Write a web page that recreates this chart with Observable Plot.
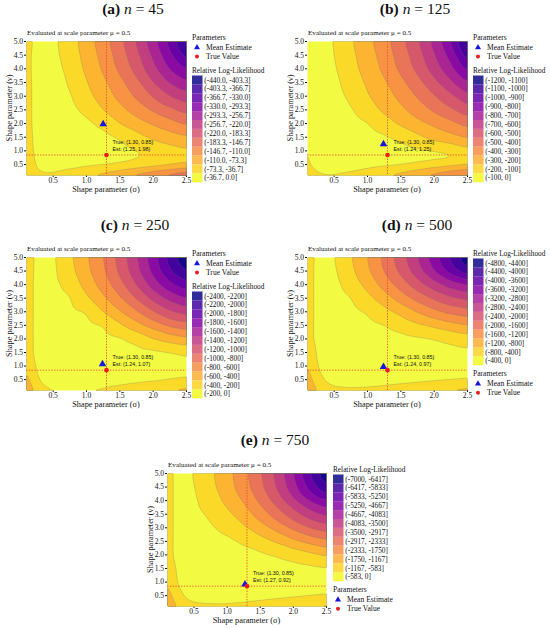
<!DOCTYPE html>
<html>
<head>
<meta charset="utf-8">
<script src="https://cdn.jsdelivr.net/npm/d3@7"></script>
<script src="https://cdn.jsdelivr.net/npm/@observablehq/plot@0.6"></script>
<style>
  html, body { margin: 0; padding: 0; background: #fff; }
  #fig { position: relative; width: 550px; height: 629px; overflow: hidden; }
  #fig svg { position: absolute; }
</style>
</head>
<body>
<div id="fig"></div>
<script>
// ---------------- data ----------------
const sampleSizes = [45, 125, 250, 500, 750];
const trueValue = {sigma: 1.30, nu: 0.85};
const meanEstimates = [
  {sigma: 1.25, nu: 1.98},
  {sigma: 1.24, nu: 1.25},
  {sigma: 1.24, nu: 1.07},
  {sigma: 1.24, nu: 0.97},
  {sigma: 1.27, nu: 0.92}
];
const xTicks = [0.5, 1.0, 1.5, 2.0, 2.5];
const yTicks = [0.5, 1.0, 1.5, 2.0, 2.5, 3.0, 3.5, 4.0, 4.5, 5.0];

const binLabelsA = ["(-440.0, -403.3]", "(-403.3, -366.7]", "(-366.7, -330.0]", "(-330.0, -293.3]", "(-293.3, -256.7]", "(-256.7, -220.0]", "(-220.0, -183.3]", "(-183.3, -146.7]", "(-146.7, -110.0]", "(-110.0, -73.3]", "(-73.3, -36.7]", "(-36.7, 0.0]"];
const binLabelsB = ["(-1200, -1100]", "(-1100, -1000]", "(-1000, -900]", "(-900, -800]", "(-800, -700]", "(-700, -600]", "(-600, -500]", "(-500, -400]", "(-400, -300]", "(-300, -200]", "(-200, -100]", "(-100, 0]"];
const binLabelsC = ["(-2400, -2200]", "(-2200, -2000]", "(-2000, -1800]", "(-1800, -1600]", "(-1600, -1400]", "(-1400, -1200]", "(-1200, -1000]", "(-1000, -800]", "(-800, -600]", "(-600, -400]", "(-400, -200]", "(-200, 0]"];
const binLabelsD = ["(-4800, -4400]", "(-4400, -4000]", "(-4000, -3600]", "(-3600, -3200]", "(-3200, -2800]", "(-2800, -2400]", "(-2400, -2000]", "(-2000, -1600]", "(-1600, -1200]", "(-1200, -800]", "(-800, -400]", "(-400, 0]"];
const binLabelsE = ["(-7000, -6417]", "(-6417, -5833]", "(-5833, -5250]", "(-5250, -4667]", "(-4667, -4083]", "(-4083, -3500]", "(-3500, -2917]", "(-2917, -2333]", "(-2333, -1750]", "(-1750, -1167]", "(-1167, -583]", "(-583, 0]"];

const sigmaGrid = [0.1, 0.2, 0.35, 0.5, 0.75, 1.0, 1.25, 1.5, 1.75, 2.0, 2.25, 2.5];
const nuGrid = [0.1, 0.25, 0.5, 0.75, 1.0, 1.5, 2.0, 2.5, 3.0, 3.5, 4.0, 4.5, 5.0];

// relative log-likelihood depth below the maximum, in legend bins (rows: nu from 0.1 up to 5.0)
const depthA = [
  [2.6, 1.6, 1.3, 1.3, 1.6, 2.0, 2.5, 3.0, 3.6, 4.2, 4.9, 5.6],
  [2.1, 1.1, 0.85, 0.9, 1.2, 1.5, 1.8, 2.1, 2.5, 2.9, 3.3, 3.7],
  [1.85, 1.1, 0.65, 0.5, 0.6, 0.8, 0.95, 1.15, 1.4, 1.6, 1.85, 2.15],
  [1.7, 1.0, 0.55, 0.35, 0.3, 0.3, 0.4, 0.6, 0.85, 1.1, 1.35, 1.6],
  [1.6, 0.95, 0.5, 0.35, 0.3, 0.35, 0.45, 0.65, 0.97, 1.3, 1.55, 1.8],
  [1.5, 0.9, 0.5, 0.35, 0.35, 0.45, 0.65, 1.07, 1.63, 2.17, 2.53, 2.88],
  [1.45, 0.85, 0.5, 0.4, 0.5, 0.75, 1.26, 2.0, 2.56, 3.11, 3.6, 4.12],
  [1.4, 0.85, 0.55, 0.45, 0.7, 1.24, 2.0, 2.71, 3.43, 4.13, 4.75, 5.38],
  [1.4, 0.85, 0.55, 0.5, 0.9, 1.68, 2.47, 3.29, 4.19, 5.1, 6.0, 6.63],
  [1.4, 0.85, 0.55, 0.55, 1.1, 1.93, 2.77, 3.72, 4.72, 6.0, 7.1, 7.88],
  [1.4, 0.8, 0.55, 0.6, 1.31, 2.19, 3.13, 4.23, 5.4, 6.72, 8.1, 9.1],
  [1.4, 0.8, 0.6, 0.75, 1.43, 2.35, 3.35, 4.48, 5.74, 7.2, 8.8, 10.45],
  [1.4, 0.9, 0.6, 0.8, 1.55, 2.5, 3.57, 4.75, 6.1, 7.67, 9.4, 11.4]
];
const depthB = [
  [2.2, 1.4, 1.2, 1.2, 1.4, 1.7, 2.1, 2.6, 3.1, 3.7, 4.2, 4.8],
  [1.6, 0.95, 0.85, 0.85, 0.95, 1.2, 1.5, 1.8, 2.2, 2.6, 2.95, 3.3],
  [1.3, 0.7, 0.45, 0.45, 0.55, 0.7, 0.82, 0.95, 1.2, 1.5, 1.8, 2.1],
  [1.2, 0.65, 0.35, 0.3, 0.3, 0.35, 0.4, 0.5, 0.6, 0.7, 0.75, 0.98],
  [1.15, 0.6, 0.35, 0.3, 0.3, 0.35, 0.45, 0.6, 0.8, 0.95, 1.2, 1.7],
  [1.1, 0.6, 0.4, 0.35, 0.45, 0.6, 0.85, 1.22, 1.78, 2.33, 2.68, 3.1],
  [1.1, 0.6, 0.4, 0.4, 0.6, 0.95, 1.54, 2.16, 2.7, 3.2, 3.7, 4.33],
  [1.1, 0.6, 0.45, 0.5, 0.9, 1.55, 2.2, 2.8, 3.47, 4.17, 4.85, 5.58],
  [1.1, 0.6, 0.45, 0.6, 1.24, 1.92, 2.56, 3.26, 4.1, 4.93, 5.77, 6.81],
  [1.1, 0.6, 0.45, 0.75, 1.44, 2.14, 2.86, 3.74, 4.67, 5.73, 6.86, 8.0],
  [1.1, 0.6, 0.45, 0.9, 1.65, 2.39, 3.21, 4.24, 5.27, 6.5, 7.75, 9.36],
  [1.1, 0.6, 0.45, 1.03, 1.76, 2.53, 3.42, 4.46, 5.57, 6.94, 8.4, 10.6],
  [1.1, 0.6, 0.5, 1.1, 1.88, 2.7, 3.63, 4.7, 5.9, 7.33, 9.1, 11.5]
];
const depthC = [
  [3.5, 2.0, 1.3, 1.15, 1.1, 1.12, 1.2, 1.4, 1.65, 1.9, 2.15, 2.4],
  [3.0, 1.6, 1.0, 0.8, 0.75, 0.8, 0.93, 1.1, 1.3, 1.5, 1.7, 1.9],
  [2.6, 1.35, 0.8, 0.55, 0.45, 0.45, 0.5, 0.6, 0.7, 0.8, 0.95, 1.05],
  [2.3, 1.2, 0.65, 0.4, 0.3, 0.3, 0.3, 0.35, 0.45, 0.55, 0.7, 0.85],
  [2.1, 1.1, 0.55, 0.35, 0.3, 0.3, 0.3, 0.35, 0.4, 0.5, 0.6, 0.7],
  [1.55, 0.95, 0.5, 0.35, 0.35, 0.4, 0.45, 0.55, 0.65, 0.75, 0.9, 1.13],
  [1.5, 0.95, 0.5, 0.4, 0.45, 0.55, 0.7, 0.85, 1.25, 1.95, 2.4, 2.77],
  [1.5, 0.95, 0.5, 0.45, 0.55, 0.75, 0.97, 1.79, 2.61, 3.42, 4.2, 4.57],
  [1.5, 0.95, 0.55, 0.55, 0.8, 1.0, 1.96, 2.92, 3.88, 4.92, 5.88, 6.43],
  [1.5, 0.95, 0.55, 0.65, 0.9, 1.8, 2.82, 3.87, 5.1, 6.33, 7.33, 8.06],
  [1.5, 0.95, 0.55, 0.75, 1.3, 2.38, 3.45, 4.67, 6.06, 7.5, 8.8, 9.68],
  [1.6, 0.95, 0.6, 0.8, 1.67, 2.74, 3.83, 5.22, 6.69, 8.31, 9.93, 11.15],
  [1.5, 1.0, 0.6, 0.85, 1.8, 2.87, 3.96, 5.39, 6.93, 8.6, 10.5, 11.9]
];
const depthD = [
  [3.6, 2.3, 1.6, 1.35, 1.3, 1.35, 1.5, 1.7, 1.9, 2.1, 2.3, 2.5],
  [3.2, 1.9, 1.2, 0.95, 0.9, 0.95, 1.05, 1.2, 1.35, 1.5, 1.65, 1.8],
  [2.8, 1.6, 0.95, 0.7, 0.55, 0.5, 0.55, 0.65, 0.75, 0.85, 0.92, 1.0],
  [2.5, 1.35, 0.8, 0.5, 0.35, 0.3, 0.3, 0.35, 0.45, 0.55, 0.65, 0.75],
  [2.3, 1.2, 0.65, 0.4, 0.3, 0.3, 0.3, 0.35, 0.4, 0.45, 0.55, 0.6],
  [2.0, 1.05, 0.55, 0.35, 0.35, 0.35, 0.4, 0.45, 0.5, 0.6, 0.7, 0.8],
  [1.5, 0.9, 0.5, 0.4, 0.45, 0.5, 0.6, 0.7, 0.85, 0.97, 1.2, 1.41],
  [1.5, 0.9, 0.5, 0.45, 0.6, 0.75, 0.95, 1.34, 1.78, 2.19, 2.6, 3.0],
  [1.5, 0.9, 0.55, 0.5, 0.75, 1.07, 1.62, 2.26, 3.05, 3.73, 4.3, 4.61],
  [1.5, 0.9, 0.55, 0.6, 0.95, 1.65, 2.5, 3.46, 4.38, 5.18, 5.84, 6.23],
  [1.5, 0.9, 0.55, 0.7, 1.39, 2.33, 3.4, 4.49, 5.59, 6.62, 7.47, 8.08],
  [1.5, 0.9, 0.55, 0.85, 1.76, 2.83, 4.05, 5.28, 6.6, 8.0, 9.52, 10.8],
  [1.5, 0.95, 0.6, 0.95, 1.92, 3.0, 4.25, 5.59, 7.0, 8.67, 10.25, 11.9]
];
const depthE = [
  [3.5, 2.3, 1.6, 1.35, 1.3, 1.3, 1.4, 1.6, 1.8, 2.0, 2.2, 2.4],
  [3.1, 1.85, 1.15, 0.95, 0.9, 0.92, 1.0, 1.12, 1.27, 1.42, 1.58, 1.75],
  [2.7, 1.55, 0.95, 0.7, 0.55, 0.5, 0.55, 0.65, 0.75, 0.85, 0.95, 1.04],
  [2.4, 1.3, 0.8, 0.5, 0.35, 0.3, 0.3, 0.35, 0.45, 0.55, 0.65, 0.75],
  [2.2, 1.15, 0.6, 0.4, 0.3, 0.3, 0.3, 0.35, 0.4, 0.45, 0.55, 0.6],
  [1.9, 1.05, 0.55, 0.35, 0.35, 0.35, 0.4, 0.45, 0.55, 0.65, 0.75, 0.87],
  [1.5, 0.85, 0.5, 0.4, 0.45, 0.55, 0.65, 0.8, 1.05, 1.35, 1.7, 2.07],
  [1.5, 0.85, 0.5, 0.45, 0.6, 0.8, 1.16, 1.62, 2.11, 2.78, 3.32, 3.79],
  [1.5, 0.85, 0.55, 0.55, 0.9, 1.27, 1.82, 2.53, 3.36, 4.23, 5.05, 5.52],
  [1.5, 0.85, 0.55, 0.7, 1.17, 1.78, 2.53, 3.46, 4.51, 5.57, 6.56, 7.24],
  [1.5, 0.85, 0.55, 0.85, 1.54, 2.23, 3.09, 4.23, 5.44, 6.78, 8.07, 8.97],
  [1.5, 0.85, 0.55, 0.97, 1.73, 2.55, 3.55, 4.73, 6.06, 7.67, 9.41, 10.92],
  [1.5, 0.85, 0.55, 1.09, 1.82, 2.66, 3.68, 4.9, 6.31, 8.0, 10.1, 11.9]
];

// ---------------- style / layout ----------------
const SERIF = "'Liberation Serif', 'Times New Roman', serif";
const SANS = "'Liberation Sans', Arial, sans-serif";
const bandLevels = d3.range(12);                       // 0 = top bin (nearest the maximum)
const bandColors = bandLevels.map(k => d3.interpolatePlasma(1 - k / 11));
const FILL_OP = 0.85;
const fmt2 = d3.format(".2f");

const panels = [
  {letter: "a", n: sampleSizes[0], depth: depthA, bins: binLabelsA, est: meanEstimates[0], rect: [26, 41, 186, 175], titleX: 133, titleY: 14, legendX: 192, legendY: 37, paramsFirst: true},
  {letter: "b", n: sampleSizes[1], depth: depthB, bins: binLabelsB, est: meanEstimates[1], rect: [307, 41, 467, 175], titleX: 415, titleY: 14, legendX: 473, legendY: 37, paramsFirst: true},
  {letter: "c", n: sampleSizes[2], depth: depthC, bins: binLabelsC, est: meanEstimates[2], rect: [26, 257, 186, 390], titleX: 135, titleY: 230, legendX: 192, legendY: 253, paramsFirst: true},
  {letter: "d", n: sampleSizes[3], depth: depthD, bins: binLabelsD, est: meanEstimates[3], rect: [307, 257, 467, 390], titleX: 417, titleY: 230, legendX: 473, legendY: 253, paramsFirst: false},
  {letter: "e", n: sampleSizes[4], depth: depthE, bins: binLabelsE, est: meanEstimates[4], rect: [167, 473, 326, 606], titleX: 275, titleY: 445, legendX: 333, legendY: 469, paramsFirst: false}
];

const fig = document.getElementById("fig");
const mL = 30, mR = 10, mT = 4, mB = 14;

for (const p of panels) {
  const [x0, y0, x1, y1] = p.rect;
  const points = nuGrid.flatMap((nu, i) => sigmaGrid.map((sigma, j) => ({sigma, nu, depth: p.depth[i][j]})));
  const est = p.est;
  const chart = Plot.plot({
    width: (x1 - x0) + mL + mR,
    height: (y1 - y0) + mT + mB,
    marginLeft: mL, marginRight: mR, marginTop: mT, marginBottom: mB,
    style: {background: "transparent", overflow: "visible", fontFamily: SERIF, fontSize: "7.5px", color: "#111"},
    x: {domain: [0.1, 2.5], ticks: xTicks, tickFormat: ".1f", tickSize: 2, tickPadding: 0.5, label: null},
    y: {domain: [0.1, 5.0], ticks: yTicks, tickFormat: ".1f", tickSize: 2, tickPadding: 1.5, label: null},
    color: {type: "ordinal", domain: bandLevels, range: bandColors},
    marks: [
      Plot.contour(points, {x: "sigma", y: "nu", fill: "depth", thresholds: bandLevels, interpolate: "barycentric", blur: 3, pixelSize: 1, fillOpacity: FILL_OP}),
      Plot.contour(points, {x: "sigma", y: "nu", value: "depth", thresholds: bandLevels.slice(1), interpolate: "barycentric", blur: 3, pixelSize: 1, fill: "none", stroke: "#6a6a6a", strokeOpacity: 0.55, strokeWidth: 0.45}),
      Plot.ruleX([trueValue], {x: "sigma", stroke: "#e8413a", strokeDasharray: "1.4,1.4", strokeWidth: 0.8}),
      Plot.ruleY([trueValue], {y: "nu", stroke: "#e8413a", strokeDasharray: "1.4,1.4", strokeWidth: 0.8}),
      Plot.dot([est], {x: "sigma", y: "nu", symbol: "triangle", fill: "#1616e0", r: 2.8}),
      Plot.dot([trueValue], {x: "sigma", y: "nu", fill: "#ee1c1c", r: 2.3}),
      Plot.text([trueValue], {x: "sigma", y: "nu", text: d => `True: (${fmt2(d.sigma)}, ${fmt2(d.nu)})`, dx: 6, dy: -13, textAnchor: "start", fontSize: 5.3, fontFamily: SANS, fill: "#111"}),
      Plot.text([trueValue], {x: "sigma", y: "nu", text: () => `Est: (${fmt2(est.sigma)}, ${fmt2(est.nu)})`, dx: 6, dy: -5.7, textAnchor: "start", fontSize: 5.3, fontFamily: SANS, fill: "#111"})
    ]
  });
  chart.style.left = (x0 - mL) + "px";
  chart.style.top = (y0 - mT) + "px";
  fig.appendChild(chart);
}

// ---------------- titles, axis labels, legends ----------------
const ov = d3.select(fig).append("svg")
  .attr("width", 550).attr("height", 629)
  .style("left", "0px").style("top", "0px").style("pointer-events", "none");

function label(x, y, s, size, opts = {}) {
  const t = ov.append("text").attr("x", x).attr("y", y)
    .attr("font-family", opts.family || SERIF).attr("font-size", size)
    .attr("fill", opts.fill || "#111").attr("text-anchor", opts.anchor || "start")
    .text(s);
  if (opts.rotate) t.attr("transform", `rotate(-90,${x},${y})`);
  return t;
}

for (const p of panels) {
  const [x0, y0, x1, y1] = p.rect;
  // title
  const t = ov.append("text").attr("x", p.titleX).attr("y", p.titleY)
    .attr("text-anchor", "middle").attr("font-family", SERIF).attr("font-size", 15.5).attr("fill", "#111");
  t.append("tspan").attr("font-weight", "bold").text(`(${p.letter})`);
  t.append("tspan").text(" ");
  t.append("tspan").attr("font-style", "italic").text("n");
  t.append("tspan").text(` = ${p.n}`);
  // subtitle
  label(x0 + 1, y0 - 6.5, "Evaluated at scale parameter \u03bc = 0.5", 7.1);
  // axis labels
  label((x0 + x1) / 2, y1 + 16.5, "Shape parameter (\u03c3)", 8.3, {anchor: "middle"});
  label(x0 - 14, (y0 + y1) / 2, "Shape parameter (\u03bd)", 8.3, {anchor: "middle", rotate: true});

  // legend
  const lx = p.legendX;
  const sw = 10.5, sh = 8.9;
  function drawParams(yc) {
    label(lx, yc + 2.7, "Parameters", 7.6);
    ov.append("path").attr("d", d3.symbol(d3.symbolTriangle, 16)())
      .attr("transform", `translate(${lx + 5},${yc + 10.5})`).attr("fill", "#1616e0");
    label(lx + 14, yc + 10.5 + 2.6, "Mean Estimate", 7.6);
    ov.append("circle").attr("cx", lx + 5).attr("cy", yc + 19.5).attr("r", 2).attr("fill", "#ee1c1c");
    label(lx + 14, yc + 19.5 + 2.6, "True Value", 7.6);
  }
  function drawBins(yc) {
    label(lx, yc + 2.7, "Relative Log-Likelihood", 7.3);
    const top = yc + 5.5;
    p.bins.forEach((b, i) => {
      ov.append("rect").attr("x", lx).attr("y", top + i * sh).attr("width", sw).attr("height", sh)
        .attr("fill", bandColors[11 - i]).attr("fill-opacity", FILL_OP);
      label(lx + sw + 1.8, top + i * sh + sh / 2 + 2.6, b, 7.3);
    });
    return top + 12 * sh;
  }
  if (p.paramsFirst) {
    drawParams(p.legendY);
    drawBins(p.legendY + 33);
  } else {
    const end = drawBins(p.legendY);
    drawParams(end + 8);
  }
}
</script>
</body>
</html>
